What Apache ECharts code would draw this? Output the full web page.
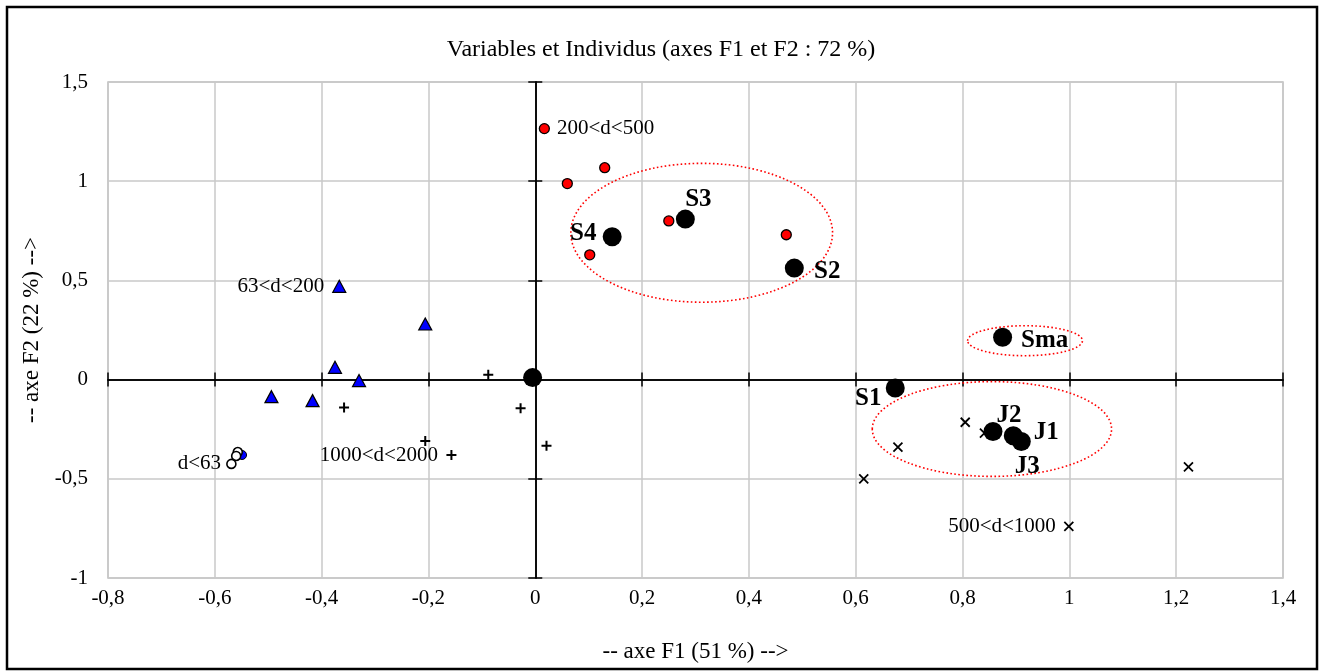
<!DOCTYPE html>
<html>
<head>
<meta charset="utf-8">
<script src="https://cdn.jsdelivr.net/npm/echarts@6/dist/echarts.min.js"></script>
<style>html,body{margin:0;padding:0;background:#fff;}#chart{width:1322px;height:671px;}</style>
</head>
<body>
<div id="chart"></div>
<script>
// ---- data ----
const title = 'Variables et Individus (axes F1 et F2 : 72 %)';
const xName = '-- axe F1 (51 %) -->';
const yName = '-- axe F2 (22 %) -->';
const xMin = -0.8, xMax = 1.4, xStep = 0.2;
const yMin = -1, yMax = 1.5, yStep = 0.5;

// individuals by size class: [F1, F2, label]
const d63 = [[-0.549, -0.38, ''], [-0.557, -0.365, ''], [-0.560, -0.385, ''], [-0.569, -0.425, 'd<63']];
const d63_200 = [[-0.367, 0.47, '63<d<200'], [-0.206, 0.28, ''], [-0.375, 0.062, ''], [-0.33, -0.005, ''], [-0.494, -0.086, ''], [-0.417, -0.106, '']];
const d200_500 = [[0.017, 1.265, '200<d<500'], [0.130, 1.068, ''], [0.060, 0.988, ''], [0.250, 0.80, ''], [0.470, 0.73, ''], [0.102, 0.629, '']];
const d500_1000 = [[0.805, -0.215, ''], [0.841, -0.27, ''], [0.679, -0.34, ''], [0.615, -0.50, ''], [1.223, -0.44, ''], [0.999, -0.74, '500<d<1000']];
const d1000_2000 = [[-0.088, 0.025, ''], [-0.358, -0.14, ''], [-0.206, -0.31, ''], [-0.157, -0.38, '1000<d<2000'], [-0.0275, -0.144, ''], [0.021, -0.334, '']];
// variables
const variables = [[-0.005, 0.01, ''], [0.281, 0.809, 'S3'], [0.144, 0.72, 'S4'], [0.485, 0.562, 'S2'], [0.875, 0.213, 'Sma'], [0.674, -0.042, 'S1'], [0.857, -0.262, 'J2'], [0.895, -0.283, 'J1'], [0.910, -0.312, 'J3']];
// ellipses: [centerF1, centerF2, radiusF1, radiusF2]
const ellipses = [[0.3116, 0.74, 0.245, 0.35], [0.917, 0.196, 0.1075, 0.0755], [0.855, -0.249, 0.224, 0.239]];

// ---- styles ----
const serif = '"Liberation Serif", "DejaVu Serif", serif';
const smallLabelPos = {
  'd<63': {position: 'left', distance: 5},
  '63<d<200': {position: 'left', distance: 8},
  '200<d<500': {position: 'right', distance: 7},
  '500<d<1000': {position: 'left', distance: 6},
  '1000<d<2000': {position: 'left', distance: 6}
};
const bigLabelOffset = {
  'S3': [13, -20], 'S4': [-29, -3], 'S2': [33, 3], 'Sma': [42, 3],
  'S1': [-27, 11], 'J2': [16, -16], 'J1': [33, -3], 'J3': [6, 25]
};
function fmt(v) { return String(Math.round(v * 10) / 10).replace('.', ','); }

function pts(arr) {
  return arr.map(p => {
    const item = {value: [p[0], p[1]], name: p[2]};
    if (p[2]) {
      item.label = Object.assign({show: true, formatter: p[2], color: '#000', fontFamily: serif, fontSize: 21}, smallLabelPos[p[2]]);
    }
    return item;
  });
}
function bigPts(arr) {
  return arr.map(p => {
    const item = {value: [p[0], p[1]], name: p[2]};
    if (p[2]) {
      item.label = {show: true, formatter: p[2], color: '#000', fontFamily: serif, fontSize: 25, fontWeight: 'bold',
        position: 'inside', offset: bigLabelOffset[p[2]]};
    }
    return item;
  });
}

const base = {min: xMin, max: xMax, interval: xStep};
const ybase = {min: yMin, max: yMax, interval: yStep};
const hidden = {axisLabel: {show: false}, splitLine: {show: false}};
const zeroLine = {show: true, onZero: true, onZeroAxisIndex: 0, lineStyle: {color: '#000', width: 1.5}};
const zeroTick = {show: true, length: 7, lineStyle: {color: '#000', width: 1.5}};

const option = {
  animation: false,
  backgroundColor: '#fff',
  title: {text: title, left: 'center', top: 33, textStyle: {fontFamily: serif, fontSize: 24, fontWeight: 'normal', color: '#000'}},
  graphic: [{type: 'rect', shape: {x: 7, y: 7, width: 1310, height: 662}, style: {fill: 'none', stroke: '#000', lineWidth: 2.5}, z: 100}],
  grid: {left: 108, right: 39, top: 82, bottom: 93, show: true, borderColor: '#c0c0c0', borderWidth: 1.5},
  xAxis: [
    Object.assign({type: 'value', position: 'bottom', name: xName, nameLocation: 'middle', nameGap: 62,
      nameTextStyle: {fontFamily: serif, fontSize: 23, color: '#000'},
      axisLine: {show: false, onZero: false}, axisTick: {show: false},
      axisLabel: {formatter: fmt, fontFamily: serif, fontSize: 21, color: '#000', margin: 10},
      splitLine: {show: true, lineStyle: {color: '#c8c8c8', width: 1.5}}}, base),
    Object.assign({type: 'value', position: 'bottom', axisLine: zeroLine, axisTick: zeroTick}, hidden, base),
    Object.assign({type: 'value', position: 'top', axisLine: zeroLine, axisTick: zeroTick}, hidden, base)
  ],
  yAxis: [
    Object.assign({type: 'value', position: 'left', name: yName, nameLocation: 'middle', nameGap: 64,
      nameTextStyle: {fontFamily: serif, fontSize: 23, color: '#000'},
      axisLine: {show: false, onZero: false}, axisTick: {show: false},
      axisLabel: {formatter: fmt, fontFamily: serif, fontSize: 21, color: '#000', margin: 20},
      splitLine: {show: true, lineStyle: {color: '#c8c8c8', width: 1.5}}}, ybase),
    Object.assign({type: 'value', position: 'left', axisLine: zeroLine, axisTick: zeroTick}, hidden, ybase),
    Object.assign({type: 'value', position: 'right', axisLine: zeroLine, axisTick: zeroTick}, hidden, ybase)
  ],
  series: [
    {type: 'custom', name: 'ellipses', data: ellipses, z: 1, silent: true,
      renderItem: function (params, api) {
        const c = api.coord([api.value(0), api.value(1)]);
        const s = api.size([api.value(2), api.value(3)]);
        return {type: 'ellipse', shape: {cx: c[0], cy: c[1], rx: s[0], ry: s[1]},
          style: {fill: 'none', stroke: '#ff0000', lineWidth: 1.6, lineDash: [1.6, 2.4]}};
      }},
    {type: 'scatter', name: 'd<63 bleu', data: pts(d63.slice(0, 1)), symbol: 'circle', symbolSize: 9,
      itemStyle: {color: '#0000ff', borderColor: '#000', borderWidth: 1, opacity: 1}, z: 3},
    {type: 'scatter', name: 'd<63', data: pts(d63.slice(1)), symbol: 'circle', symbolSize: 9,
      itemStyle: {color: '#fff', borderColor: '#000', borderWidth: 1.6, opacity: 1}, z: 4},
    {type: 'scatter', name: '63<d<200', data: pts(d63_200), symbol: 'triangle', symbolSize: [13, 12],
      itemStyle: {color: '#0000ff', borderColor: '#000', borderWidth: 1.2, opacity: 1}, z: 3},
    {type: 'scatter', name: '200<d<500', data: pts(d200_500), symbol: 'circle', symbolSize: 10,
      itemStyle: {color: '#ff0000', borderColor: '#000', borderWidth: 1.3, opacity: 1}, z: 3},
    {type: 'scatter', name: '500<d<1000', data: pts(d500_1000), symbol: 'path://M0,0 L10,10 M10,0 L0,10', symbolSize: 9,
      itemStyle: {color: 'none', borderColor: '#000', borderWidth: 1.8, opacity: 1}, z: 3},
    {type: 'scatter', name: '1000<d<2000', data: pts(d1000_2000), symbol: 'path://M0,5 L10,5 M5,0 L5,10', symbolSize: 10,
      itemStyle: {color: 'none', borderColor: '#000', borderWidth: 2, opacity: 1}, z: 3},
    {type: 'scatter', name: 'variables', data: bigPts(variables), symbol: 'circle', symbolSize: 19,
      itemStyle: {color: '#000', opacity: 1}, z: 5}
  ]
};
const chart = echarts.init(document.getElementById('chart'), null, {renderer: 'canvas'});
chart.setOption(option);
</script>
</body>
</html>
